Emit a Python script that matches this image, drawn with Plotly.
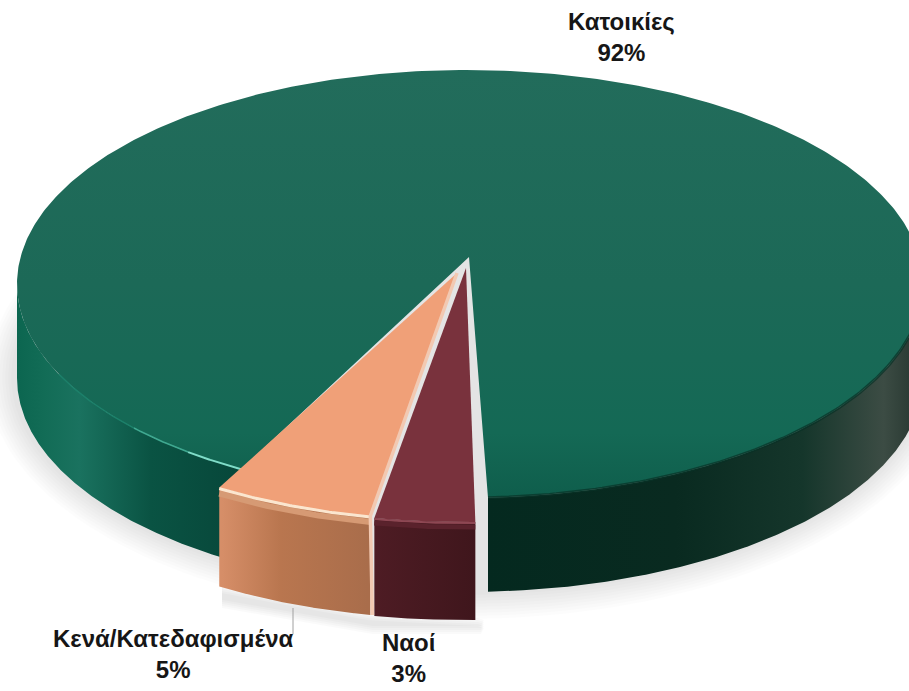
import numpy as np
import plotly.graph_objects as go

categories = ["Κατοικίες", "Κενά/Κατεδαφισμένα", "Ναοί"]
shares = [92, 5, 3]

W, H = 909, 691
RX, RX_RIGHT, RY = 449, 457, 214
START = -1.5     # angle, clockwise from the front, where the smallest slice begins
WARP = 5.73      # perspective widening of the near slices


def phi(theta):
    return theta + WARP * np.sin(np.radians(2 * theta))


def project(c, t):
    s = np.sin(t)
    return c[0] - np.where(s > 0, RX, RX_RIGHT) * s, c[1] + RY * np.cos(t)


def arc(c, a, b, n=240):
    return project(c, np.radians(phi(np.linspace(a, b, n))))


def raw_arc(c, a, b, n=240):
    return project(c, np.radians(np.linspace(a, b, n)))


def poly(x, y, grad=None, color=None, line=None):
    kw = dict(x=list(x) + [x[0]], y=list(y) + [y[0]], mode="lines", fill="toself",
              line=line or dict(width=0), hoverinfo="skip", showlegend=False)
    if grad:
        kw["fillgradient"] = grad
    if color:
        kw["fillcolor"] = color
    return go.Scatter(**kw)


def gradient(kind, lo, hi, stops):
    return dict(type=kind, start=lo, stop=hi,
                colorscale=[[p, c] for p, c in stops])


def side(c, a, b, depth, grad):
    x, y = arc(c, a, b)
    return poly(np.r_[x, x[::-1]], np.r_[y, y[::-1] + depth], grad)


t_maroon = (START, START + shares[2] * 3.6)
t_peach = (t_maroon[1], t_maroon[1] + shares[1] * 3.6)
t_green = (t_peach[1], t_peach[1] + shares[0] * 3.6)

c_green, apex_green, d_green = (466, 284), (469, 257), 94
c_peach, apex_peach, d_peach = (457, 306), (457, 273), 99
c_maroon, apex_maroon, d_maroon = (461, 308), (466, 268), 98

fig = go.Figure()

# soft shadow
for i in range(9):
    g = 4 + i * 3
    sx, sy = raw_arc((466, 284 + d_green - 3), 0, 360, 180)
    fig.add_trace(poly((sx - 466) * (RX + g) / RX + 466 - 2, (sy - 284 - d_green + 3) * (RY + g) / RY + 284 + d_green - 3 + 2,
                       color="rgba(0,0,0,0.012)"))
sx, sy = np.array([222, 368, 478, 484, 481, 372, 222]), np.array([585, 612, 618, 620, 626, 626, 600])
for i in range(5):
    fig.add_trace(poly(sx, sy + i * 2, color="rgba(0,0,0,0.02)"))

# green side, left and right of the gap
fig.add_trace(side(c_green, t_green[0] - 1.7, 90, d_green, gradient("horizontal", 17, 240, [
    (0, "#0c6650"), (0.12, "#126c56"), (0.28, "#1a725f"), (0.6, "#0a5343"), (1, "#07473a")])))
fig.add_trace(side(c_green, 270, t_green[1] - 0.8, d_green, gradient("horizontal", 484, 909, [
    (0, "#04291f"), (0.45, "#092a20"), (0.75, "#15362b"), (0.94, "#3c4c44"), (1, "#2c3c35")])))

# green top
lx, ly = arc(c_green, t_green[0] - 1.7, t_green[1] - 0.8, 500)
fig.add_trace(poly(np.r_[apex_green[0], lx], np.r_[apex_green[1], ly], gradient("vertical", 70, 497, [
    (0, "#226c5b"), (0.5, "#1c6957"), (0.85, "#146955"), (1, "#0f5e4c")])))

# rim highlight, green
for (a, b, col, w) in [(t_green[0] - 1.7, 33, "#7fdcc8", 2), (33, 42, "#3fa890", 1.6), (42, 60, "#1c806a", 1.4)]:
    rx_, ry_ = arc(c_green, a, b, 40)
    fig.add_trace(go.Scatter(x=rx_, y=ry_, mode="lines", line=dict(color=col, width=w),
                             hoverinfo="skip", showlegend=False))
# rim shade, right
rx_, ry_ = arc(c_green, 272, t_green[1] - 0.8, 120)
fig.add_trace(go.Scatter(x=rx_, y=ry_, mode="lines", line=dict(color="rgba(8,50,38,0.7)", width=3),
                         hoverinfo="skip", showlegend=False))

# maroon
fig.add_trace(side(c_maroon, *t_maroon, d_maroon, gradient("horizontal", 373, 477, [
    (0, "#4e1c24"), (1, "#3f161c")])))
mx, my = arc(c_maroon, *t_maroon, 50)
fig.add_trace(poly(np.r_[apex_maroon[0], mx], np.r_[apex_maroon[1], my], color="#79323d"))
fig.add_trace(go.Scatter(x=mx, y=my + 1, mode="lines", line=dict(color="#8e4753", width=2),
                         hoverinfo="skip", showlegend=False))
fig.add_trace(go.Scatter(x=mx, y=my + 5, mode="lines", line=dict(color="#5a222c", width=5),
                         hoverinfo="skip", showlegend=False))

# peach
fig.add_trace(side(c_peach, *t_peach, d_peach, gradient("horizontal", 222, 368, [
    (0, "#d68e68"), (0.4, "#b9764f"), (1, "#a96d4b")])))
px, py = arc(c_peach, *t_peach, 60)
fig.add_trace(poly(np.r_[apex_peach[0], px], np.r_[apex_peach[1], py], color="#f0a078"))
fig.add_trace(go.Scatter(x=px, y=py + 6, mode="lines", line=dict(color="#d69a74", width=6),
                         hoverinfo="skip", showlegend=False))
fig.add_trace(go.Scatter(x=px, y=py + 1, mode="lines", line=dict(color="#fbe6cf", width=3),
                         hoverinfo="skip", showlegend=False))
# pale seam between peach and maroon
fig.add_trace(go.Scatter(x=[apex_peach[0], px[0], px[0] + 1, px[0] + 2], y=[apex_peach[1], py[0], py[0] + d_peach / 2, py[0] + d_peach],
                         mode="lines", line=dict(color="#f2c9b2", width=3.5),
                         hoverinfo="skip", showlegend=False))

# leader
fig.add_trace(go.Scatter(x=[293, 293], y=[608, 634], mode="lines", line=dict(color="#a0a0a0", width=1),
                         hoverinfo="skip", showlegend=False))

# labels
label_pos = [(621, 37), (173, 654), (408, 658)]
for cat, val, (lx_, ly_) in zip(categories, shares, label_pos):
    fig.add_annotation(x=lx_, y=ly_, text=f"<b>{cat}</b><br><b>{val}%</b>", showarrow=False, borderpad=0,
                       font=dict(family="Liberation Sans", size=24, color="#161616"), align="center")

fig.update_layout(
    width=W, height=H, margin=dict(l=0, r=0, t=0, b=0),
    paper_bgcolor="white", plot_bgcolor="white", showlegend=False,
    xaxis=dict(range=[0, W], visible=False, fixedrange=True),
    yaxis=dict(range=[H, 0], visible=False, fixedrange=True),
)
fig.write_html("out.html", config=dict(displayModeBar=False),
               post_script="document.body.style.margin='0';document.documentElement.style.overflow='hidden';")
